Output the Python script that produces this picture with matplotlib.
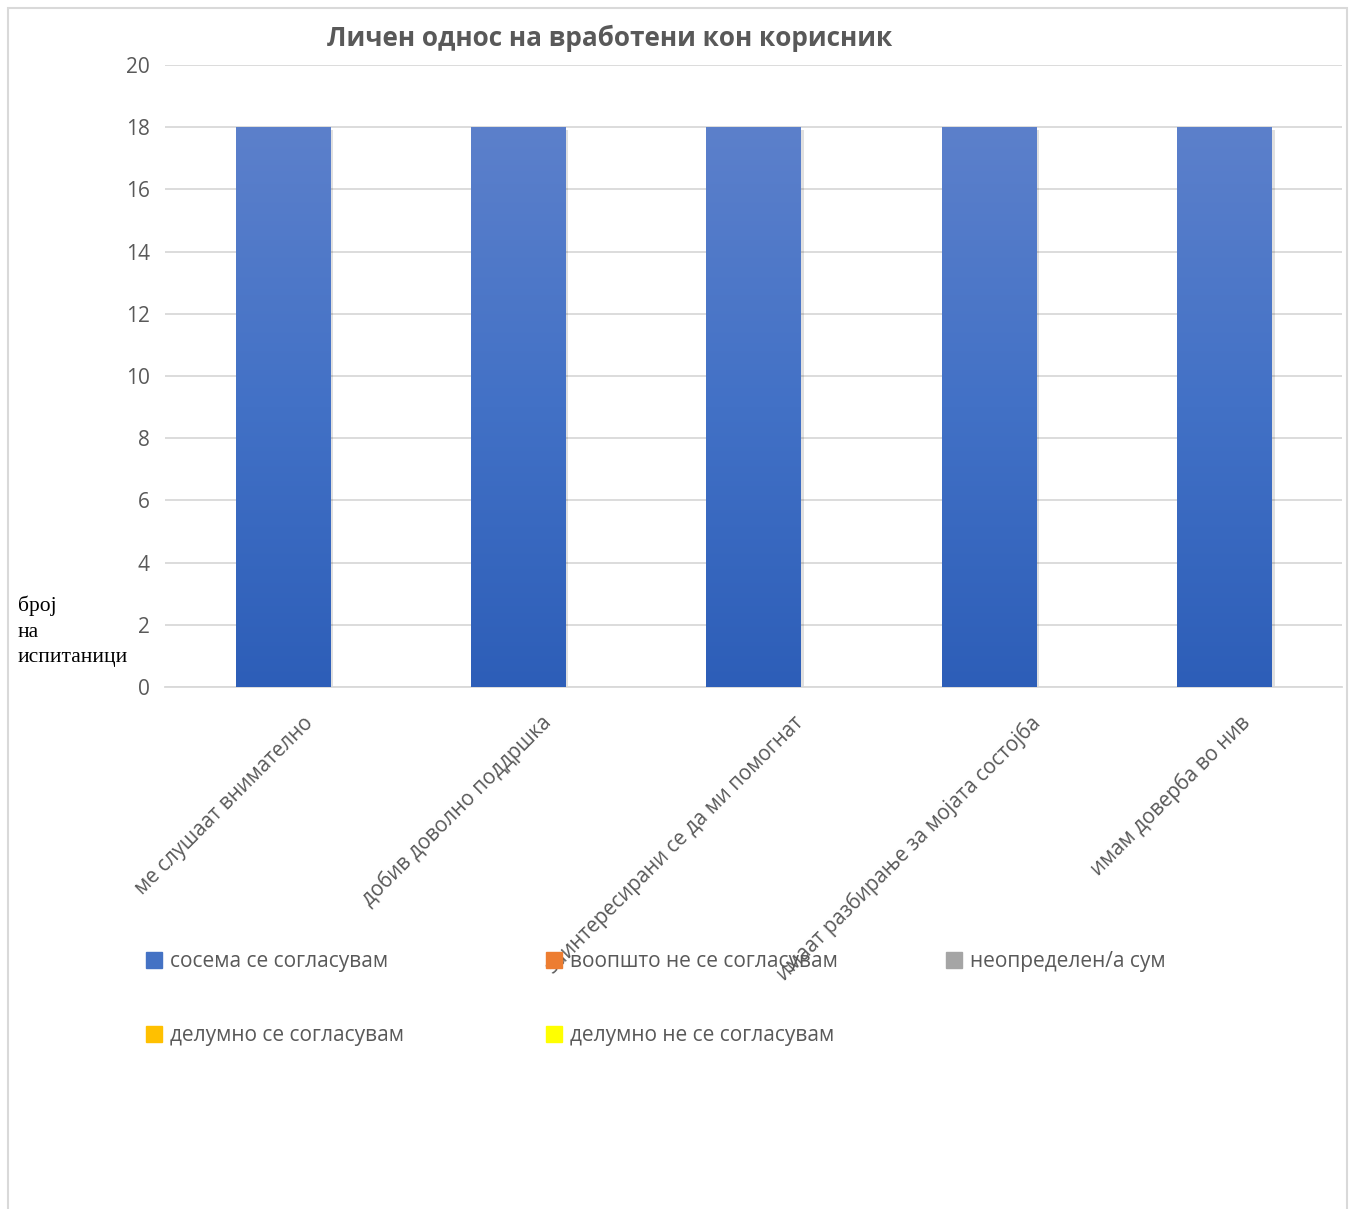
import numpy as np
import matplotlib.pyplot as plt
import matplotlib.patches as mpatches
from matplotlib.colors import LinearSegmentedColormap
from matplotlib.lines import Line2D
from matplotlib.transforms import ScaledTranslation

plt.rcParams['font.family'] = ['Open Sans', 'DejaVu Sans']

# data
categories = ['ме слушаат внимателно', 'добив доволно поддршка',
              'заинтересирани се да ми помогнат',
              'имаат разбирање за мојата состојба', 'имам доверба во нив']
series_names = ['сосема се согласувам', 'воопшто не се согласувам',
                'неопределен/а сум', 'делумно се согласувам',
                'делумно не се согласувам']
series_colors = ['#4472C4', '#ED7D31', '#A5A5A5', '#FFC000', '#FFFF00']
values = {
    'сосема се согласувам': [18, 18, 18, 18, 18],
    'воопшто не се согласувам': [0, 0, 0, 0, 0],
    'неопределен/а сум': [0, 0, 0, 0, 0],
    'делумно се согласувам': [0, 0, 0, 0, 0],
    'делумно не се согласувам': [0, 0, 0, 0, 0],
}
title = 'Личен однос на вработени кон корисник'
ylabel = 'број\nна\nиспитаници'

W, H = 1351, 1209
fig = plt.figure(figsize=(W / 100, H / 100), dpi=100)
ax = fig.add_axes([165 / W, 1 - 687 / H, (1342 - 165) / W, (687 - 65) / H])

x = np.arange(len(categories))
bottom = np.zeros(len(categories))
containers = []
for name, col in zip(series_names, series_colors):
    c = ax.bar(x, values[name], 0.4, bottom=bottom, color=col, zorder=3, linewidth=0)
    containers.append(c)
    bottom = bottom + np.array(values[name])

# gradient fill on the blue bars
cmap = LinearSegmentedColormap.from_list('g', ['#2D5EB8', '#4271C6', '#5C80CB'])
grad = np.linspace(0, 1, 256).reshape(-1, 1)
for bar in containers[0]:
    bx, by, bw, bh = bar.get_x(), bar.get_y(), bar.get_width(), bar.get_height()
    # soft shadow
    sh = mpatches.Rectangle((bx + 0.008, by), bw + 0.006, bh - 0.08, color='#000000',
                            alpha=0.12, zorder=2, linewidth=0)
    ax.add_patch(sh)
    im = ax.imshow(grad, extent=[bx, bx + bw, by, by + bh], origin='lower',
                   aspect='auto', cmap=cmap, zorder=3.5)
    im.set_clip_path(bar)

ax.set_xlim(-0.5, len(categories) - 0.5)
ax.set_ylim(0, 20)
ax.set_yticks(np.arange(0, 21, 2))
ax.grid(axis='y', color='#D9D9D9', linewidth=1.3, zorder=0)
for s in ['top', 'right', 'left']:
    ax.spines[s].set_visible(False)
ax.spines['bottom'].set_color('#D9D9D9')
ax.spines['bottom'].set_linewidth(1.3)
ax.tick_params(axis='both', length=0, colors='#595959', labelsize=15)
ax.tick_params(axis='y', pad=11)

ax.set_xticks(x)
ax.set_xticklabels(categories, rotation=45, ha='right', va='center',
                   rotation_mode='anchor', color='#595959', fontsize=14.8)
fig.canvas.draw()
r = fig.canvas.get_renderer()
for lbl in ax.get_xticklabels():
    w = lbl.get_window_extent(r).width * np.sqrt(2)
    dx = (0.173 * w - 18) / 100
    lbl.set_transform(lbl.get_transform() + ScaledTranslation(dx, -0.28, fig.dpi_scale_trans))

fig.text(610 / W, 1 - 38 / H, title, ha='center', va='center', fontsize=18.8,
         fontweight='bold', color='#595959')
fig.text(18 / W, 1 - 596 / H, ylabel, ha='left', va='top', fontsize=15.5,
         family='Liberation Serif', linespacing=1.45, color='black')

# legend, three columns placed like the original
handles = [Line2D([], [], marker='s', linestyle='none', markersize=11,
                  markerfacecolor=c, markeredgecolor=c) for c in series_colors]
cols = [[0, 3], [1, 4], [2]]
xs = [146, 546, 946]
for idx, xp in zip(cols, xs):
    leg = fig.legend([handles[i] for i in idx], [series_names[i] for i in idx],
                     loc='upper left', bbox_to_anchor=(xp / W, 1 - 951 / H),
                     frameon=False, fontsize=15, labelcolor='#595959',
                     handlelength=0.75, handletextpad=0.4, labelspacing=2.55,
                     borderpad=0, borderaxespad=0)

# outer border
fig.patches.append(mpatches.Rectangle((8 / W, -0.01), (1347 - 8) / W, 1.01 - 8 / H,
                                      transform=fig.transFigure, fill=False,
                                      edgecolor='#D9D9D9', linewidth=1.5))

fig.savefig('out.png', dpi=100, facecolor='white')
